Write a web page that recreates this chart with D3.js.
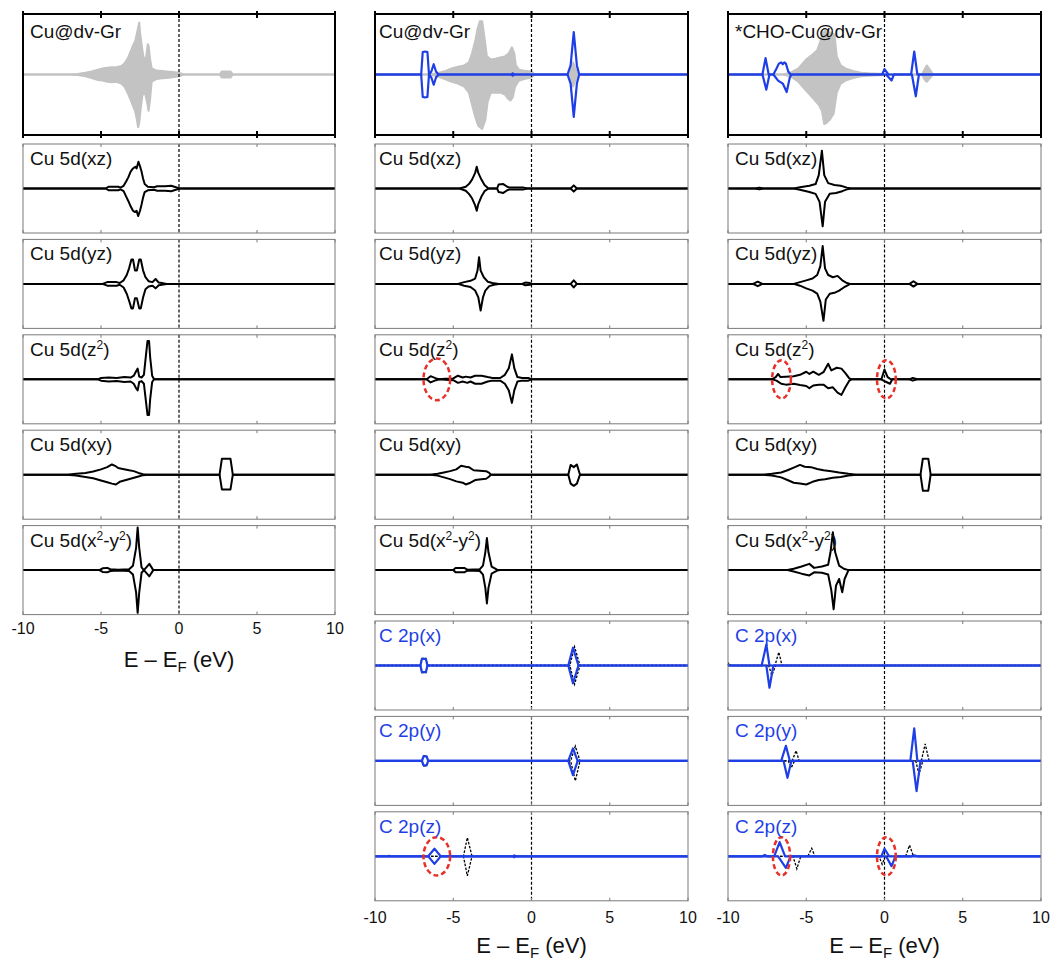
<!DOCTYPE html>
<html><head><meta charset="utf-8">
<script src="https://cdn.jsdelivr.net/npm/d3@7"></script>
<style>body{margin:0;background:#fff}</style>
</head><body>
<svg id="chart" width="1052" height="960"></svg>
<script>
// ---------------- DATA ----------------
const xTicks = [-10, -5, 0, 5, 10];
const xLabelTicks = [-10, -5, 0, 5, 10];
const axisTitle = "E – E";
const columnTitles = ["Cu@dv-Gr", "Cu@dv-Gr", "*CHO-Cu@dv-Gr"];
const dLabels = ["Cu 5d(xz)", "Cu 5d(yz)", "Cu 5d(z^2)", "Cu 5d(xy)", "Cu 5d(x^2-y^2)"];
const pLabels = ["C 2p(x)", "C 2p(y)", "C 2p(z)"];

// total DOS (grey), [E, value]
const tot1Up = [[-10,0],[-7,0],[-6.5,0.01],[-6,0.03],[-5.6,0.05],[-5.2,0.08],[-4.9,0.1],[-4.6,0.11],[-4.3,0.12],[-4.0,0.12],[-3.7,0.14],[-3.5,0.18],[-3.3,0.26],[-3.1,0.38],[-2.95,0.48],[-2.8,0.56],[-2.7,0.68],[-2.6,0.8],[-2.55,0.86],[-2.5,0.7],[-2.4,0.5],[-2.3,0.32],[-2.2,0.22],[-2.1,0.3],[-2.0,0.5],[-1.95,0.48],[-1.85,0.25],[-1.75,0.1],[-1.5,0.07],[-1.2,0.06],[-0.8,0.05],[-0.4,0.04],[0,0.03],[0.2,0.01],[0.4,0],[2.6,0],[2.75,0.05],[3.3,0.05],[3.45,0],[10,0]];
const tot1Dn = [[-10,0],[-7,0],[-6.5,-0.01],[-6,-0.03],[-5.6,-0.06],[-5.2,-0.09],[-4.9,-0.1],[-4.6,-0.12],[-4.3,-0.13],[-4.0,-0.12],[-3.7,-0.15],[-3.5,-0.2],[-3.3,-0.3],[-3.1,-0.42],[-2.95,-0.52],[-2.8,-0.62],[-2.7,-0.75],[-2.62,-0.87],[-2.55,-0.8],[-2.45,-0.55],[-2.35,-0.35],[-2.2,-0.28],[-2.05,-0.45],[-1.95,-0.6],[-1.85,-0.4],[-1.75,-0.12],[-1.5,-0.08],[-1.0,-0.06],[-0.5,-0.05],[0,-0.03],[0.3,0],[2.6,0],[2.75,-0.05],[3.3,-0.05],[3.45,0],[10,0]];
const tot2Up = [[-10,0],[-6.5,0],[-6,0.02],[-5.5,0.06],[-5.1,0.1],[-4.7,0.13],[-4.3,0.15],[-4.0,0.2],[-3.8,0.35],[-3.6,0.55],[-3.45,0.75],[-3.3,0.88],[-3.15,0.88],[-3.0,0.6],[-2.85,0.3],[-2.6,0.25],[-2.3,0.26],[-2.0,0.28],[-1.7,0.3],[-1.45,0.35],[-1.25,0.45],[-1.1,0.35],[-1.0,0.15],[-0.8,0.08],[-0.4,0.06],[0,0.05],[0.2,0],[2.4,0],[2.55,0.1],[2.65,0.2],[2.8,0.1],[2.95,0],[10,0]];
const tot2Dn = [[-10,0],[-6.5,0],[-6,-0.03],[-5.5,-0.08],[-5.1,-0.12],[-4.7,-0.15],[-4.3,-0.2],[-4.0,-0.3],[-3.8,-0.5],[-3.6,-0.7],[-3.4,-0.85],[-3.15,-0.9],[-2.95,-0.75],[-2.8,-0.45],[-2.6,-0.3],[-2.3,-0.3],[-2.0,-0.3],[-1.7,-0.33],[-1.5,-0.4],[-1.35,-0.43],[-1.2,-0.38],[-1.05,-0.2],[-0.8,-0.1],[-0.4,-0.07],[0,-0.05],[0.2,0],[2.4,0],[2.55,-0.1],[2.65,-0.2],[2.8,-0.1],[2.95,0],[10,0]];
const tot3Up = [[-10,0],[-6.5,0],[-6,0.03],[-5.5,0.1],[-5.0,0.25],[-4.6,0.33],[-4.3,0.4],[-4.1,0.55],[-3.95,0.68],[-3.8,0.72],[-3.6,0.7],[-3.4,0.69],[-3.2,0.66],[-3.05,0.3],[-2.8,0.15],[-2.5,0.1],[-2.0,0.06],[-1.5,0.03],[-1.0,0.02],[0,0.01],[2.4,0],[2.55,0.08],[2.7,0.15],[2.9,0.08],[3.1,0],[10,0]];
const tot3Dn = [[-10,0],[-6.5,0],[-6,-0.03],[-5.5,-0.12],[-5.0,-0.27],[-4.6,-0.38],[-4.2,-0.5],[-4.0,-0.6],[-3.85,-0.82],[-3.7,-0.8],[-3.5,-0.75],[-3.25,-0.65],[-3.05,-0.3],[-2.8,-0.15],[-2.5,-0.1],[-2.0,-0.06],[-1.5,-0.03],[-1.0,-0.02],[0,-0.01],[2.4,0],[2.55,-0.08],[2.7,-0.12],[2.9,-0.06],[3.1,0],[10,0]];

// carbon total (blue) in top panels
const cTot2Up = [[-10,0],[-7.05,0],[-6.95,0.37],[-6.8,0.38],[-6.65,0.37],[-6.55,0],[-6.4,0.05],[-6.25,0.17],[-6.1,0.05],[-5.95,0],[-1.3,0],[-1.2,0.02],[-1.1,0],[2.3,0],[2.5,0.15],[2.7,0.7],[2.9,0.15],[3.05,0],[10,0]];
const cTot2Dn = [[-10,0],[-7.05,0],[-6.95,-0.37],[-6.8,-0.38],[-6.65,-0.37],[-6.55,0],[-6.4,-0.05],[-6.25,-0.17],[-6.1,-0.05],[-5.95,0],[-1.3,0],[-1.2,-0.02],[-1.1,0],[2.3,0],[2.5,-0.15],[2.7,-0.7],[2.9,-0.15],[3.05,0],[10,0]];
const cTot3Up = [[-10,0],[-7.8,0],[-7.6,0.27],[-7.4,0],[-7.1,0],[-6.9,0.1],[-6.75,0.18],[-6.6,0.2],[-6.5,0.17],[-6.4,0.2],[-6.3,0.18],[-6.15,0.05],[-6.0,0],[-0.15,0],[0,0.09],[0.25,0],[1.7,0],[1.9,0.38],[2.1,0],[10,0]];
const cTot3Dn = [[-10,0],[-7.8,0],[-7.55,-0.25],[-7.35,0],[-7.1,0],[-6.8,-0.1],[-6.5,-0.15],[-6.25,-0.29],[-6.05,-0.05],[-5.95,0],[0.1,0],[0.45,-0.1],[0.6,0],[1.75,0],[2.0,-0.36],[2.2,0],[10,0]];

// Cu 5d, column 1 (Cu@dv-Gr)
const xz1Up = [[-10,0],[-4.7,0],[-4.5,0.04],[-3.9,0.04],[-3.75,0.02],[-3.55,0.06],[-3.4,0.15],[-3.25,0.25],[-3.1,0.38],[-2.95,0.45],[-2.8,0.49],[-2.72,0.45],[-2.6,0.6],[-2.5,0.5],[-2.4,0.38],[-2.3,0.22],[-2.2,0.1],[-2.0,0.04],[-1.6,0.03],[-1.4,0.05],[-0.9,0.05],[-0.5,0.06],[-0.2,0.03],[0,0],[10,0]];
const xz1Dn = [[-10,0],[-4.7,0],[-4.5,-0.04],[-3.9,-0.04],[-3.75,-0.02],[-3.55,-0.06],[-3.4,-0.17],[-3.25,-0.28],[-3.1,-0.4],[-2.95,-0.5],[-2.82,-0.53],[-2.72,-0.5],[-2.62,-0.62],[-2.5,-0.5],[-2.4,-0.36],[-2.3,-0.2],[-2.2,-0.08],[-2.0,-0.04],[-1.6,-0.03],[-1.4,-0.05],[-0.9,-0.05],[-0.5,-0.06],[-0.2,-0.03],[0,0],[10,0]];
const yz1Up = [[-10,0],[-4.9,0],[-4.6,0.04],[-4.0,0.04],[-3.8,0.02],[-3.55,0.08],[-3.35,0.2],[-3.2,0.35],[-3.05,0.55],[-2.95,0.55],[-2.82,0.3],[-2.7,0.3],[-2.55,0.55],[-2.45,0.55],[-2.3,0.3],[-2.15,0.15],[-1.95,0.06],[-1.7,0.04],[-1.5,0.11],[-1.3,0.03],[-1.1,0.02],[-0.8,0],[10,0]];
const yz1Dn = [[-10,0],[-4.9,0],[-4.6,-0.04],[-4.0,-0.04],[-3.8,-0.02],[-3.55,-0.08],[-3.35,-0.22],[-3.2,-0.38],[-3.05,-0.55],[-2.95,-0.55],[-2.82,-0.32],[-2.7,-0.32],[-2.55,-0.55],[-2.45,-0.55],[-2.3,-0.3],[-2.15,-0.12],[-1.95,-0.06],[-1.7,-0.04],[-1.5,-0.1],[-1.3,-0.03],[-1.1,-0.02],[-0.8,0],[10,0]];
const z21Up = [[-10,0],[-5.2,0],[-5.0,0.03],[-4.5,0.04],[-4.0,0.03],[-3.5,0.05],[-3.1,0.04],[-2.9,0.08],[-2.75,0.18],[-2.65,0.24],[-2.55,0.06],[-2.4,0.04],[-2.25,0.1],[-2.1,0.6],[-2.02,0.86],[-1.92,0.86],[-1.85,0.5],[-1.72,0.08],[-1.6,0],[10,0]];
const z21Dn = [[-10,0],[-5.2,0],[-5.0,-0.03],[-4.5,-0.05],[-4.0,-0.04],[-3.5,-0.06],[-3.1,-0.05],[-2.9,-0.1],[-2.75,-0.2],[-2.65,-0.25],[-2.55,-0.06],[-2.4,-0.04],[-2.25,-0.1],[-2.1,-0.55],[-2.02,-0.8],[-1.92,-0.8],[-1.85,-0.45],[-1.72,-0.06],[-1.6,0],[10,0]];
const xy1Up = [[-10,0],[-7.2,0],[-6.6,0.02],[-6.0,0.04],[-5.5,0.07],[-5.0,0.12],[-4.6,0.17],[-4.3,0.23],[-4.1,0.2],[-3.9,0.15],[-3.6,0.13],[-3.2,0.1],[-2.9,0.08],[-2.6,0.04],[-2.3,0.01],[-2.0,0],[2.6,0],[2.75,0.36],[3.3,0.36],[3.45,0],[10,0]];
const xy1Dn = [[-10,0],[-7.2,0],[-6.6,-0.02],[-6.0,-0.05],[-5.5,-0.08],[-5.0,-0.13],[-4.6,-0.17],[-4.3,-0.2],[-4.05,-0.22],[-3.8,-0.16],[-3.4,-0.12],[-3.0,-0.08],[-2.6,-0.04],[-2.3,-0.01],[-2.0,0],[2.6,0],[2.75,-0.33],[3.3,-0.33],[3.45,0],[10,0]];
const x2y21Up = [[-10,0],[-5.1,0],[-4.9,0.04],[-4.6,0.05],[-4.4,0.02],[-3.9,0.01],[-3.2,0.02],[-2.95,0.1],[-2.75,0.5],[-2.65,0.96],[-2.55,0.5],[-2.4,0.06],[-2.25,0],[-1.9,0.14],[-1.65,0],[10,0]];
const x2y21Dn = [[-10,0],[-5.1,0],[-4.9,-0.04],[-4.6,-0.05],[-4.4,-0.02],[-3.9,-0.01],[-3.2,-0.02],[-2.95,-0.1],[-2.75,-0.5],[-2.65,-0.96],[-2.55,-0.5],[-2.4,-0.06],[-2.25,0],[-1.9,-0.14],[-1.65,0],[10,0]];

// Cu 5d, column 2 (Cu@dv-Gr with C)
const xz2Up = [[-10,0],[-4.6,0],[-4.2,0.04],[-4.0,0.1],[-3.8,0.2],[-3.6,0.35],[-3.5,0.49],[-3.4,0.35],[-3.2,0.2],[-3.0,0.08],[-2.75,0],[-2.2,0],[-2.1,0.09],[-1.8,0.1],[-1.55,0.04],[-1.4,0.02],[-0.5,0.02],[-0.2,0],[2.5,0],[2.7,0.07],[2.9,0],[10,0]];
const xz2Dn = [[-10,0],[-4.6,0],[-4.2,-0.05],[-4.0,-0.12],[-3.8,-0.22],[-3.6,-0.38],[-3.5,-0.5],[-3.4,-0.35],[-3.2,-0.18],[-3.0,-0.06],[-2.75,0],[-2.2,0],[-2.1,-0.08],[-1.8,-0.1],[-1.55,-0.04],[-1.4,-0.02],[-0.5,-0.02],[-0.2,0],[2.5,0],[2.7,-0.07],[2.9,0],[10,0]];
const yz2Up = [[-10,0],[-4.7,0],[-4.3,0.04],[-3.9,0.07],[-3.6,0.12],[-3.45,0.3],[-3.35,0.6],[-3.25,0.3],[-3.05,0.15],[-2.8,0.05],[-2.5,0.02],[-2.1,0],[-0.6,0],[-0.4,0.03],[-0.1,0.02],[0,0],[2.5,0],[2.7,0.08],[2.9,0],[10,0]];
const yz2Dn = [[-10,0],[-4.7,0],[-4.3,-0.04],[-3.9,-0.07],[-3.6,-0.15],[-3.4,-0.3],[-3.25,-0.6],[-3.1,-0.3],[-2.95,-0.15],[-2.7,-0.05],[-2.4,-0.02],[-2.1,0],[-0.6,0],[-0.4,-0.03],[-0.1,-0.02],[0,0],[2.5,0],[2.7,-0.08],[2.9,0],[10,0]];
const z22Up = [[-10,0],[-6.7,0],[-6.45,0.07],[-6.1,0.02],[-5.9,0],[-5.5,0.01],[-5.0,0.02],[-4.7,0.08],[-4.4,0.04],[-4.2,0.06],[-3.9,0.04],[-3.6,0.08],[-3.2,0.08],[-2.8,0.05],[-2.5,0.03],[-2.0,0.03],[-1.7,0.1],[-1.45,0.25],[-1.25,0.56],[-1.1,0.25],[-0.9,0.05],[-0.6,0.03],[-0.2,0.03],[0,0],[10,0]];
const z22Dn = [[-10,0],[-6.7,0],[-6.45,-0.07],[-6.1,-0.02],[-5.9,0],[-5.5,-0.01],[-5.0,-0.02],[-4.7,-0.08],[-4.4,-0.05],[-4.1,-0.08],[-3.9,-0.05],[-3.6,-0.1],[-3.2,-0.1],[-2.8,-0.05],[-2.5,-0.03],[-2.0,-0.03],[-1.7,-0.1],[-1.45,-0.25],[-1.25,-0.53],[-1.1,-0.25],[-0.9,-0.05],[-0.6,-0.03],[-0.2,-0.03],[0,0],[10,0]];
const xy2Up = [[-10,0],[-6.5,0],[-6.0,0.02],[-5.6,0.05],[-5.2,0.08],[-4.8,0.12],[-4.5,0.2],[-4.2,0.18],[-4.0,0.17],[-3.7,0.1],[-3.3,0.09],[-2.9,0.08],[-2.7,0.04],[-2.6,0],[2.35,0],[2.5,0.22],[2.7,0.17],[2.9,0.23],[3.1,0],[10,0]];
const xy2Dn = [[-10,0],[-6.5,0],[-6.0,-0.02],[-5.6,-0.06],[-5.2,-0.1],[-4.8,-0.15],[-4.4,-0.18],[-4.2,-0.22],[-3.9,-0.18],[-3.6,-0.12],[-3.2,-0.1],[-2.9,-0.09],[-2.7,-0.04],[-2.6,0],[2.35,0],[2.5,-0.2],[2.7,-0.25],[2.9,-0.2],[3.1,0],[10,0]];
const x2y22Up = [[-10,0],[-5.0,0],[-4.85,0.05],[-4.3,0.05],[-4.1,0.01],[-3.3,0.02],[-3.1,0.1],[-2.95,0.4],[-2.85,0.72],[-2.75,0.4],[-2.55,0.08],[-2.2,0.01],[-2.0,0],[10,0]];
const x2y22Dn = [[-10,0],[-5.0,0],[-4.85,-0.05],[-4.3,-0.05],[-4.1,-0.01],[-3.3,-0.02],[-3.1,-0.1],[-2.95,-0.4],[-2.85,-0.75],[-2.75,-0.4],[-2.55,-0.08],[-2.2,-0.01],[-2.0,0],[10,0]];

// Cu 5d, column 3 (*CHO-Cu@dv-Gr)
const xz3Up = [[-10,0],[-8.3,0],[-8.0,0.02],[-7.7,0],[-5.8,0],[-5.4,0.03],[-4.8,0.06],[-4.4,0.1],[-4.2,0.3],[-4.0,0.85],[-3.85,0.3],[-3.6,0.12],[-3.2,0.08],[-2.8,0.06],[-2.4,0.02],[-2.1,0],[10,0]];
const xz3Dn = [[-10,0],[-8.3,0],[-8.0,-0.02],[-7.7,0],[-5.8,0],[-5.4,-0.03],[-4.8,-0.08],[-4.4,-0.12],[-4.15,-0.3],[-3.95,-0.85],[-3.8,-0.3],[-3.5,-0.12],[-3.1,-0.1],[-2.7,-0.06],[-2.4,-0.02],[-2.1,0],[10,0]];
const yz3Up = [[-10,0],[-8.4,0],[-8.1,0.05],[-7.8,0],[-5.8,0],[-5.4,0.04],[-5.0,0.08],[-4.6,0.12],[-4.3,0.2],[-4.1,0.4],[-3.95,0.85],[-3.8,0.35],[-3.6,0.2],[-3.3,0.15],[-3.0,0.18],[-2.7,0.08],[-2.4,0.02],[-2.2,0],[1.6,0],[1.85,0.06],[2.1,0],[10,0]];
const yz3Dn = [[-10,0],[-8.4,0],[-8.1,-0.05],[-7.8,0],[-5.8,0],[-5.4,-0.04],[-5.0,-0.1],[-4.6,-0.15],[-4.3,-0.22],[-4.1,-0.4],[-3.9,-0.83],[-3.75,-0.35],[-3.5,-0.22],[-3.2,-0.2],[-2.9,-0.15],[-2.6,-0.08],[-2.3,-0.02],[-2.2,0],[1.6,0],[1.85,-0.06],[2.1,0],[10,0]];
const z23Up = [[-10,0],[-7.2,0],[-6.95,0.05],[-6.8,0.12],[-6.65,0.05],[-6.3,0.06],[-5.8,0.07],[-5.4,0.1],[-5.0,0.17],[-4.8,0.12],[-4.55,0.17],[-4.2,0.1],[-3.9,0.16],[-3.6,0.35],[-3.4,0.2],[-3.05,0.26],[-2.75,0.24],[-2.5,0.14],[-2.25,0.02],[-2.1,0],[-0.2,0],[0,0.22],[0.2,0.05],[0.4,0],[1.6,0],[1.8,0.03],[2.1,0],[10,0]];
const z23Dn = [[-10,0],[-7.2,0],[-6.9,-0.03],[-6.6,-0.1],[-6.3,-0.12],[-5.8,-0.1],[-5.4,-0.13],[-5.0,-0.15],[-4.8,-0.2],[-4.55,-0.14],[-4.2,-0.12],[-3.9,-0.12],[-3.6,-0.2],[-3.3,-0.18],[-3.0,-0.3],[-2.75,-0.35],[-2.5,-0.18],[-2.25,-0.03],[-2.1,0],[-0.2,0],[0.05,-0.05],[0.35,-0.1],[0.5,0],[1.6,0],[1.8,-0.03],[2.1,0],[10,0]];
const xy3Up = [[-10,0],[-7.8,0],[-7.2,0.02],[-6.6,0.05],[-6.2,0.1],[-5.8,0.16],[-5.4,0.22],[-5.1,0.18],[-4.7,0.17],[-4.3,0.13],[-3.9,0.1],[-3.4,0.08],[-2.9,0.05],[-2.3,0.02],[-1.8,0],[2.3,0],[2.45,0.36],[2.8,0.36],[2.95,0],[10,0]];
const xy3Dn = [[-10,0],[-7.8,0],[-7.2,-0.02],[-6.6,-0.06],[-6.2,-0.12],[-5.8,-0.18],[-5.4,-0.2],[-5.0,-0.22],[-4.6,-0.16],[-4.2,-0.12],[-3.8,-0.1],[-3.3,-0.07],[-2.8,-0.05],[-2.3,-0.02],[-1.8,0],[2.3,0],[2.45,-0.36],[2.8,-0.36],[2.95,0],[10,0]];
const x2y23Up = [[-10,0],[-6.2,0],[-5.8,0.03],[-5.3,0.08],[-4.8,0.14],[-4.5,0.05],[-4.0,0.08],[-3.6,0.12],[-3.45,0.4],[-3.3,0.85],[-3.15,0.4],[-2.9,0.1],[-2.6,0.03],[-2.3,0],[10,0]];
const x2y23Dn = [[-10,0],[-6.2,0],[-5.8,-0.03],[-5.3,-0.08],[-4.8,-0.12],[-4.5,-0.05],[-4.0,-0.06],[-3.6,-0.1],[-3.4,-0.45],[-3.25,-0.88],[-3.1,-0.35],[-2.9,-0.2],[-2.7,-0.5],[-2.55,-0.2],[-2.3,0],[10,0]];

// C 2p, column 2: blue = C, black dashed = reference
const px2BUp = [[-10,0],[-7.1,0],[-7.0,0.15],[-6.75,0.15],[-6.65,0],[2.35,0],[2.65,0.4],[3.0,0],[10,0]];
const px2BDn = [[-10,0],[-7.1,0],[-7.0,-0.15],[-6.75,-0.15],[-6.65,0],[2.35,0],[2.65,-0.4],[3.0,0],[10,0]];
const px2KUp = [[-10,0],[-7.1,0],[-7.0,0.16],[-6.75,0.16],[-6.65,0],[2.45,0],[2.75,0.42],[3.1,0],[10,0]];
const px2KDn = [[-10,0],[-7.1,0],[-7.0,-0.16],[-6.75,-0.16],[-6.65,0],[2.45,0],[2.75,-0.42],[3.1,0],[10,0]];
const py2BUp = [[-10,0],[-7.0,0],[-6.9,0.1],[-6.7,0.1],[-6.6,0],[2.35,0],[2.65,0.28],[2.95,0],[10,0]];
const py2BDn = [[-10,0],[-7.0,0],[-6.9,-0.1],[-6.7,-0.1],[-6.6,0],[2.35,0],[2.65,-0.32],[2.95,0],[10,0]];
const py2KUp = [[-10,0],[-7.0,0],[-6.9,0.11],[-6.7,0.11],[-6.6,0],[2.5,0],[2.8,0.33],[3.1,0],[10,0]];
const py2KDn = [[-10,0],[-7.0,0],[-6.9,-0.11],[-6.7,-0.11],[-6.6,0],[2.5,0],[2.8,-0.45],[3.1,0],[10,0]];
const pz2BUp = [[-10,0],[-9.2,0],[-9.1,0.01],[-9.0,0],[-6.6,0],[-6.2,0.17],[-5.8,0],[-1.2,0],[-1.1,0.02],[-1.0,0],[10,0]];
const pz2BDn = [[-10,0],[-9.2,0],[-9.1,-0.01],[-9.0,0],[-6.6,0],[-6.2,-0.17],[-5.8,0],[-1.2,0],[-1.1,-0.02],[-1.0,0],[10,0]];
const pz2KUp = [[-10,0],[-4.35,0],[-4.1,0.42],[-3.8,0],[10,0]];
const pz2KDn = [[-10,0],[-4.35,0],[-4.1,-0.44],[-3.8,0],[10,0]];

// C 2p, column 3
const px3BUp = [[-10,0],[-7.85,0],[-7.55,0.47],[-7.35,0],[10,0]];
const px3BDn = [[-10,0],[-7.55,0],[-7.35,-0.5],[-7.1,0],[10,0]];
const px3KUp = [[-10,0],[-9.95,0.05],[-9.8,0],[-7.0,0],[-6.75,0.3],[-6.55,0],[10,0]];
const px3KDn = [[-10,0],[-7.4,0],[-7.2,-0.22],[-6.95,0],[10,0]];
const py3BUp = [[-10,0],[-6.6,0],[-6.3,0.34],[-6.05,0],[1.65,0],[1.9,0.73],[2.1,0],[10,0]];
const py3BDn = [[-10,0],[-6.45,0],[-6.2,-0.38],[-5.95,0],[1.8,0],[2.05,-0.68],[2.3,0],[10,0]];
const py3KUp = [[-10,0],[-5.9,0],[-5.65,0.23],[-5.45,0],[2.35,0],[2.6,0.38],[2.85,0],[10,0]];
const py3KDn = [[-10,0],[-6.15,0],[-5.95,-0.15],[-5.75,0],[2.0,0],[2.2,-0.3],[2.45,0],[10,0]];
const pz3BUp = [[-10,0],[-7.8,0],[-7.65,0.03],[-7.5,0],[-7.05,0],[-6.7,0.32],[-6.35,0],[-0.2,0],[0,0.17],[0.3,0],[1.7,0],[1.9,0.02],[2.1,0],[10,0]];
const pz3BDn = [[-10,0],[-6.8,0],[-6.3,-0.26],[-6.0,0],[0.1,0],[0.45,-0.22],[0.7,0],[10,0]];
const pz3KUp = [[-10,0],[-4.9,0],[-4.65,0.18],[-4.45,0],[1.35,0],[1.6,0.25],[1.85,0],[10,0]];
const pz3KDn = [[-10,0],[-5.85,0],[-5.6,-0.28],[-5.35,0],[-0.35,0],[-0.15,-0.18],[0.05,0],[10,0]];

// red dashed highlight ellipses: [E centre, E half-width, value half-height]
const ringsZ2Col2 = [[-6.05, 0.85, 0.47]];
const ringsZ2Col3 = [[-6.58, 0.6, 0.43], [0.12, 0.6, 0.43]];
const ringsPzCol2 = [[-6.05, 0.85, 0.43]];
const ringsPzCol3 = [[-6.58, 0.55, 0.43], [0.12, 0.6, 0.43]];

// ---------------- LAYOUT ----------------
const W = 1052, H = 960;
const colX = [[23, 335], [375, 688], [728, 1041]];
const labelDx = [7, 4, 7];
const tickDy = [19, 22, 22];
const topPanel = [14, 135];
const firstTop = 144, step = 95.4, ph = 89;
const BLUE = "#1f3fe6", GREY = "#c3c3c3", RED = "#e8302a";

const svg = d3.select("#chart");
svg.append("rect").attr("width", W).attr("height", H).attr("fill", "#fff");

const columns = [
  { top: { grey: [tot1Up, tot1Dn], blue: null },
    d: [[xz1Up, xz1Dn], [yz1Up, yz1Dn], [z21Up, z21Dn], [xy1Up, xy1Dn], [x2y21Up, x2y21Dn]],
    rings: { 2: [] }, p: null },
  { top: { grey: [tot2Up, tot2Dn], blue: [cTot2Up, cTot2Dn] },
    d: [[xz2Up, xz2Dn], [yz2Up, yz2Dn], [z22Up, z22Dn], [xy2Up, xy2Dn], [x2y22Up, x2y22Dn]],
    rings: { 2: ringsZ2Col2 },
    p: [[px2BUp, px2BDn, px2KUp, px2KDn], [py2BUp, py2BDn, py2KUp, py2KDn], [pz2BUp, pz2BDn, pz2KUp, pz2KDn]],
    pRings: { 2: ringsPzCol2 } },
  { top: { grey: [tot3Up, tot3Dn], blue: [cTot3Up, cTot3Dn] },
    d: [[xz3Up, xz3Dn], [yz3Up, yz3Dn], [z23Up, z23Dn], [xy3Up, xy3Dn], [x2y23Up, x2y23Dn]],
    rings: { 2: ringsZ2Col3 },
    p: [[px3BUp, px3BDn, px3KUp, px3KDn], [py3BUp, py3BDn, py3KUp, py3KDn], [pz3BUp, pz3BDn, pz3KUp, pz3KDn]],
    pRings: { 2: ringsPzCol3 } }
];

function addLabel(g, x, y, txt, color) {
  const t = g.append("text").attr("x", x).attr("y", y)
    .attr("font-family", "Liberation Sans, Arial, sans-serif").attr("font-size", 19).attr("fill", color);
  const parts = txt.split(/\^(\d)/);
  parts.forEach((p, i) => {
    if (i % 2 === 1) {
      t.append("tspan").attr("font-size", 12).attr("dy", -7).text(p);
    } else if (p.length) {
      t.append("tspan").attr("dy", i > 0 ? 7 : 0).text(p);
    }
  });
}

function drawPanel(ci, y0, y1, opts) {
  const x = d3.scaleLinear().domain([-10, 10]).range(colX[ci]);
  const y = d3.scaleLinear().domain([-1, 1]).range([y1, y0]);
  const g = svg.append("g");
  const line = d3.line().x(d => x(d[0])).y(d => y(d[1]));
  const area = d3.area().x(d => x(d[0])).y0(y(0)).y1(d => y(d[1]));

  if (opts.grey) {
    opts.grey.forEach(s => {
      g.append("path").datum(s).attr("d", area).attr("fill", GREY)
        .attr("stroke", GREY).attr("stroke-width", 2).attr("stroke-linejoin", "round");
    });
  }
  // Fermi level
  g.append("line").attr("x1", x(0)).attr("x2", x(0)).attr("y1", y0).attr("y2", y1)
    .attr("stroke", "#000").attr("stroke-width", 1.2).attr("stroke-dasharray", "3,2");

  if (opts.dashed) {
    opts.dashed.forEach(s => {
      g.append("path").datum(s).attr("d", line).attr("fill", "none")
        .attr("stroke", "#000").attr("stroke-width", 1.3).attr("stroke-dasharray", "2.5,1.5");
    });
  }
  if (opts.black) {
    opts.black.forEach(s => {
      g.append("path").datum(s).attr("d", line).attr("fill", "none")
        .attr("stroke", "#000").attr("stroke-width", 2).attr("stroke-linejoin", "round");
    });
  }
  if (opts.blue) {
    opts.blue.forEach(s => {
      g.append("path").datum(s).attr("d", line).attr("fill", "none")
        .attr("stroke", BLUE).attr("stroke-width", 2.2).attr("stroke-linejoin", "round");
    });
  }
  // frame
  const isTop = opts.isTop;
  g.append("rect").attr("x", x(-10)).attr("y", y0).attr("width", x(10) - x(-10)).attr("height", y1 - y0)
    .attr("fill", "none").attr("stroke", isTop ? "#000" : "#7a7a7a").attr("stroke-width", isTop ? 2 : 1);
  // ticks
  xTicks.forEach(t => {
    const tl = isTop ? [-3, 4] : [0, 3];
    g.append("line").attr("x1", x(t)).attr("x2", x(t)).attr("y1", y0 + tl[0]).attr("y2", y0 + tl[1])
      .attr("stroke", isTop ? "#000" : "#7a7a7a").attr("stroke-width", isTop ? 2 : 1);
    g.append("line").attr("x1", x(t)).attr("x2", x(t)).attr("y1", y1 - tl[1]).attr("y2", y1 - tl[0])
      .attr("stroke", isTop ? "#000" : "#7a7a7a").attr("stroke-width", isTop ? 2 : 1);
  });
  if (opts.rings) {
    opts.rings.forEach(r => {
      g.append("ellipse").attr("cx", x(r[0])).attr("cy", y(0))
        .attr("rx", x(r[0] + r[1]) - x(r[0])).attr("ry", y(0) - y(r[2]))
        .attr("fill", "none").attr("stroke", RED).attr("stroke-width", 2.5).attr("stroke-dasharray", "5,3");
    });
  }
  addLabel(g, colX[ci][0] + labelDx[ci], y0 + (isTop ? 24 : 21), opts.label, opts.labelColor || "#111");
  return x;
}

function drawAxis(ci, x, yb) {
  const g = svg.append("g");
  g.selectAll("text.tk").data(xLabelTicks).enter().append("text")
    .attr("x", d => x(d)).attr("y", yb + tickDy[ci]).attr("text-anchor", "middle")
    .attr("font-family", "Liberation Sans, Arial, sans-serif").attr("font-size", 16).attr("fill", "#111")
    .text(d => d);
  const t = g.append("text").attr("x", (colX[ci][0] + colX[ci][1]) / 2).attr("y", yb + 52)
    .attr("text-anchor", "middle").attr("font-family", "Liberation Sans, Arial, sans-serif")
    .attr("font-size", 22).attr("fill", "#111");
  t.append("tspan").text(axisTitle);
  t.append("tspan").attr("font-size", 15).attr("dy", 5).text("F");
  t.append("tspan").attr("dy", -5).text(" (eV)");
}

columns.forEach((col, ci) => {
  let x = drawPanel(ci, topPanel[0], topPanel[1], {
    isTop: true, grey: col.top.grey, blue: col.top.blue, label: columnTitles[ci]
  });
  let lastBottom = 0;
  col.d.forEach((s, i) => {
    const y0 = firstTop + i * step;
    x = drawPanel(ci, y0, y0 + ph, { black: s, label: dLabels[i], rings: col.rings[i] });
    lastBottom = y0 + ph;
  });
  if (col.p) {
    col.p.forEach((s, i) => {
      const y0 = firstTop + (i + 5) * step;
      x = drawPanel(ci, y0, y0 + ph, {
        dashed: [s[2], s[3]], blue: [s[0], s[1]], label: pLabels[i], labelColor: BLUE,
        rings: col.pRings[i]
      });
      lastBottom = y0 + ph;
    });
  }
  drawAxis(ci, x, lastBottom);
});
</script>
</body></html>
